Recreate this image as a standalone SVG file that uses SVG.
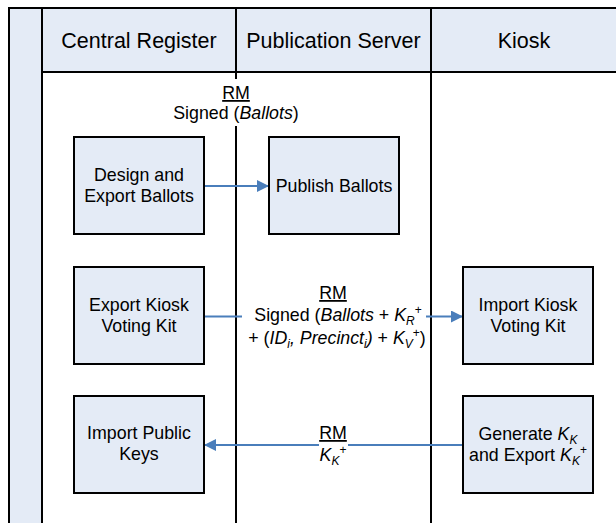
<svg xmlns="http://www.w3.org/2000/svg" width="616" height="523" viewBox="0 0 616 523">
  <style>
    .lane { fill: #e4ebf6; stroke: none; }
    .rule { stroke: #000; stroke-width: 2; fill: none; }
    .box { fill: #e4ebf6; stroke: #000; stroke-width: 2; }
    .hdr { font-family: "Liberation Sans", Arial, sans-serif; font-size: 21.5px; fill: #000; text-anchor: middle; }
    .txt { font-family: "Liberation Sans", Arial, sans-serif; font-size: 17.8px; fill: #000; text-anchor: middle; }
    .flow { stroke: #4a7ebb; stroke-width: 2; fill: none; marker-end: url(#arrow); }
    .bg { fill: #fff; }
    .it { font-style: italic; }
    .sm { font-size: 12px; }
  </style>
  <defs>
    <marker id="arrow" markerUnits="userSpaceOnUse" markerWidth="12" markerHeight="12" refX="12" refY="6" orient="auto">
      <path d="M0,0 L12,6 L0,12 z" fill="#4a7ebb"/>
    </marker>
  </defs>

  <!-- pool background: title strip and lane header row -->
  <g id="pool">
    <rect class="lane" x="9" y="8" width="33" height="515"/>
    <rect class="lane" x="42" y="8" width="574" height="64"/>
    <rect x="42" y="72" width="574" height="451" fill="#fff"/>
    <path class="rule" d="M9,523 V8 H616 M42,8 V523 M42,72 H616 M236,8 V523 M431,8 V523"/>
  </g>

  <g id="lane-headers">
    <text class="hdr" x="139" y="47.5">Central Register</text>
    <text class="hdr" x="333.5" y="47.5">Publication Server</text>
    <text class="hdr" x="524" y="47.5">Kiosk</text>
  </g>

  <!-- connectors with their labels -->
  <g id="connectors">
    <path class="flow" d="M204,186 H269"/>
    <path class="flow" d="M204,316.5 H463"/>
    <path class="flow" d="M463,445 H204"/>

    <rect class="bg" x="170" y="79" width="132" height="47"/>
    <text class="txt" x="236" y="99" text-decoration="underline">RM</text>
    <text class="txt" x="236" y="119">Signed (<tspan class="it">Ballots</tspan>)</text>

    <rect class="bg" x="242" y="281" width="184" height="70"/>
    <text class="txt" x="333" y="299" text-decoration="underline">RM</text>
    <text class="txt" x="338" y="321">Signed (<tspan class="it">Ballots</tspan> + <tspan class="it">K</tspan><tspan class="sm it" dy="4">R</tspan><tspan class="sm" dy="-11">+</tspan></text>
    <text class="txt" x="337" y="344">+ (<tspan class="it">ID</tspan><tspan class="sm it" dy="4">i</tspan><tspan class="it" dy="-4">, Precinct</tspan><tspan class="sm it" dy="4">i</tspan><tspan class="it" dy="-4">)</tspan> + <tspan class="it">K</tspan><tspan class="sm it" dy="4">V</tspan><tspan class="sm" dy="-11">+</tspan><tspan dy="7">)</tspan></text>

    <rect class="bg" x="319" y="423" width="29" height="44"/>
    <text class="txt" x="333" y="439" text-decoration="underline">RM</text>
    <text class="txt" x="333" y="461"><tspan class="it">K</tspan><tspan class="sm it" dy="4">K</tspan><tspan class="sm" dy="-11">+</tspan></text>
  </g>

  <g id="design-export-ballots">
    <rect class="box" x="74" y="137" width="130" height="97"/>
    <text class="txt" x="139" y="181">Design and</text>
    <text class="txt" x="139" y="202">Export Ballots</text>
  </g>

  <g id="publish-ballots">
    <rect class="box" x="269" y="137" width="130" height="97"/>
    <text class="txt" x="334" y="192">Publish Ballots</text>
  </g>

  <g id="export-kiosk-voting-kit">
    <rect class="box" x="74" y="267" width="130" height="97"/>
    <text class="txt" x="139" y="311">Export Kiosk</text>
    <text class="txt" x="139" y="332">Voting Kit</text>
  </g>

  <g id="import-kiosk-voting-kit">
    <rect class="box" x="463" y="267" width="130" height="97"/>
    <text class="txt" x="528" y="311">Import Kiosk</text>
    <text class="txt" x="528" y="332">Voting Kit</text>
  </g>

  <g id="import-public-keys">
    <rect class="box" x="74" y="396" width="130" height="97"/>
    <text class="txt" x="139" y="439">Import Public</text>
    <text class="txt" x="139" y="460">Keys</text>
  </g>

  <g id="generate-export-kk">
    <rect class="box" x="463" y="396" width="130" height="97"/>
    <text class="txt" x="528" y="440">Generate <tspan class="it">K</tspan><tspan class="sm it" dy="4">K</tspan></text>
    <text class="txt" x="528" y="461">and Export <tspan class="it">K</tspan><tspan class="sm it" dy="4">K</tspan><tspan class="sm" dy="-11">+</tspan></text>
  </g>
</svg>
